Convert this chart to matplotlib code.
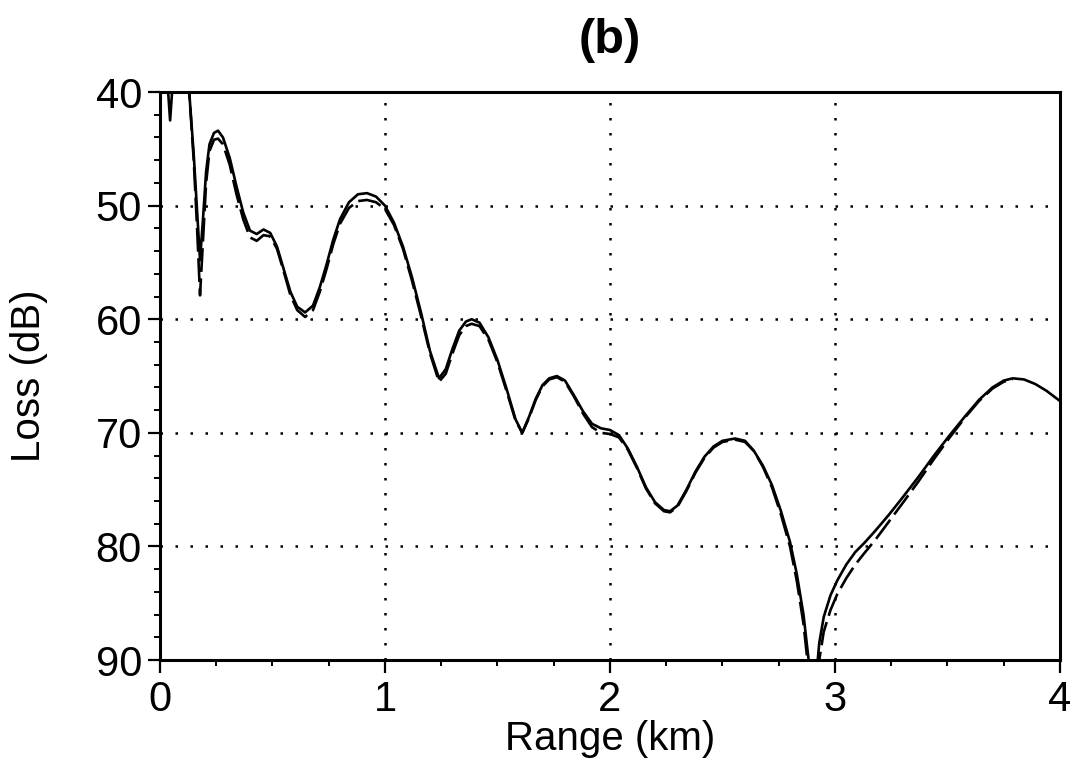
import numpy as np
import matplotlib
matplotlib.use('Agg')
import matplotlib.pyplot as plt
from matplotlib.ticker import MultipleLocator

plt.rcParams['font.family'] = ['Liberation Sans', 'DejaVu Sans']

# range (km) and loss (dB)
# first small spike near the source
spike_x = [0.030, 0.038, 0.045, 0.052, 0.060]
spike_solid = [38.0, 40.5, 42.5, 40.5, 38.0]

rng = [0.10, 0.13, 0.15, 0.165, 0.178, 0.19, 0.205, 0.22, 0.24, 0.258, 0.28,
       0.31, 0.34, 0.37, 0.40, 0.43, 0.46, 0.49, 0.52, 0.55, 0.58, 0.61,
       0.645, 0.68, 0.71, 0.74, 0.77, 0.80, 0.84, 0.88, 0.92, 0.96, 1.00,
       1.04, 1.08, 1.12, 1.16, 1.20, 1.24, 1.27, 1.30, 1.33, 1.36, 1.385,
       1.42, 1.46, 1.50, 1.54, 1.58, 1.61, 1.64, 1.67, 1.70, 1.73, 1.764,
       1.80, 1.84, 1.88, 1.92, 1.96, 2.00, 2.04, 2.08, 2.12, 2.16, 2.20,
       2.24, 2.267, 2.30, 2.34, 2.38, 2.42, 2.46, 2.50, 2.556, 2.60, 2.64,
       2.68, 2.72, 2.76, 2.80, 2.83, 2.86, 2.88, 2.90]
loss_solid = [36.0, 40.0, 45.5, 50.5, 54.8, 51.5, 47.0, 44.6, 43.6, 43.4, 44.0,
              45.8, 48.3, 50.6, 52.2, 52.5, 52.1, 52.4, 53.6, 55.6, 57.6, 58.9,
              59.4, 58.8, 57.2, 55.2, 53.0, 51.2, 49.7, 49.0, 48.9, 49.2, 50.0,
              51.5, 53.6, 56.3, 59.4, 62.8, 65.2, 64.4, 62.6, 61.0, 60.2, 60.0,
              60.3, 61.6, 63.6, 66.1, 68.8, 70.0, 68.6, 67.0, 65.8, 65.2, 65.0,
              65.4, 66.7, 68.1, 69.2, 69.6, 69.75, 70.2, 71.4, 73.0, 74.8, 76.1,
              76.8, 76.9, 76.4, 75.0, 73.4, 72.1, 71.2, 70.7, 70.5, 70.7, 71.6,
              72.9, 74.6, 76.9, 79.6, 82.4, 86.0, 89.5, 93.0]
loss_dash = [36.0, 40.0, 46.0, 52.0, 57.9, 53.5, 48.0, 45.2, 44.2, 44.1, 44.6,
             46.4, 49.0, 51.2, 52.8, 53.1, 52.6, 52.7, 53.8, 55.8, 57.9, 59.2,
             59.8, 59.2, 57.6, 55.6, 53.4, 51.6, 50.2, 49.6, 49.5, 49.7, 50.3,
             51.7, 53.8, 56.6, 59.7, 63.0, 65.5, 64.8, 63.0, 61.4, 60.6, 60.4,
             60.6, 61.8, 63.8, 66.3, 68.9, 70.0, 68.7, 67.1, 65.9, 65.3, 65.1,
             65.5, 66.8, 68.3, 69.5, 70.0, 70.1, 70.4, 71.5, 73.1, 74.9, 76.2,
             76.9, 77.0, 76.5, 75.1, 73.5, 72.2, 71.3, 70.8, 70.6, 70.8, 71.6,
             73.0, 74.8, 77.2, 80.0, 83.0, 86.8, 90.5, 94.0]

rng2 = [2.91, 2.93, 2.95, 2.98, 3.01, 3.05, 3.09, 3.13, 3.18, 3.24, 3.30,
        3.37, 3.44, 3.51, 3.58, 3.64, 3.70, 3.75, 3.79, 3.84, 3.89, 3.94, 4.00]
loss2_solid = [93.0, 88.5, 86.2, 84.3, 83.0, 81.6, 80.5, 79.7, 78.6, 77.2, 75.7,
               73.9, 72.0, 70.2, 68.5, 67.1, 66.0, 65.4, 65.2, 65.3, 65.7, 66.3,
               67.2]
loss2_dash = [94.0, 90.0, 87.5, 85.6, 84.2, 82.8, 81.6, 80.6, 79.4, 77.8, 76.2,
              74.3, 72.3, 70.4, 68.6, 67.2, 66.1, 65.5, 65.3]
rng2_dash = rng2[:19]

fig = plt.figure(figsize=(10.78, 7.72), dpi=100)
ax = fig.add_axes([0.1484, 0.145, 0.8349, 0.7358])

lw = 1.9
ax.plot(spike_x, spike_solid, color='black', lw=lw)
ax.plot(rng, loss_solid, color='black', lw=lw)
ax.plot(rng2, loss2_solid, color='black', lw=lw)
ax.plot(rng, loss_dash, color='black', lw=lw, dashes=(9, 2.5))
ax.plot(rng2_dash, loss2_dash, color='black', lw=lw, dashes=(9, 2.5))

ax.set_xlim(0, 4)
ax.set_ylim(90, 40)
ax.xaxis.set_major_locator(MultipleLocator(1))
ax.xaxis.set_minor_locator(MultipleLocator(0.25))
ax.yaxis.set_major_locator(MultipleLocator(10))
ax.yaxis.set_minor_locator(MultipleLocator(2))

ax.grid(True, which='major', color='black', linestyle=(0, (1, 5)), linewidth=1.8)
for s in ax.spines.values():
    s.set_linewidth(2.2)

ax.tick_params(which='major', direction='out', length=9, width=1.6,
               labelsize=30, pad=4)
ax.tick_params(which='minor', direction='out', length=4.5, width=1.4)
ax.tick_params(axis='x', which='major', pad=5)

ax.set_xlabel('Range (km)', fontsize=29, labelpad=0)
ax.set_ylabel('Loss (dB)', fontsize=29, labelpad=34)
ax.set_title('(b)', fontsize=35, fontweight='bold', pad=28)

fig.savefig('out.png', dpi=100)
